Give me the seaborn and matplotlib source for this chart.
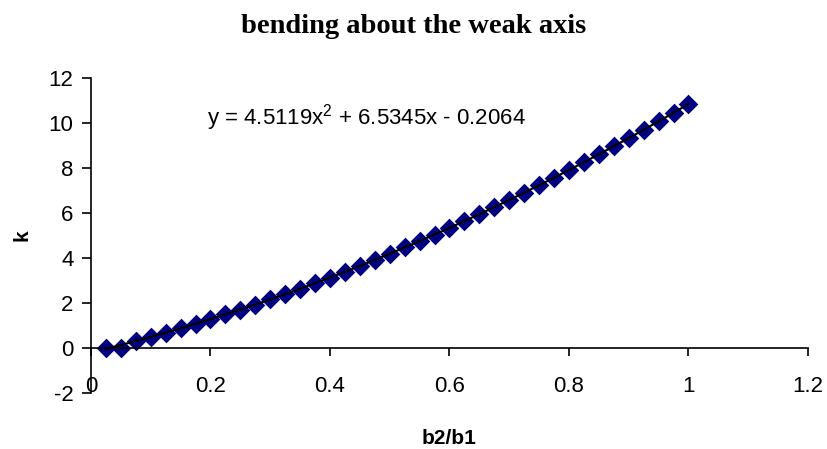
import numpy as np
import pandas as pd
import matplotlib
matplotlib.use("Agg")
import matplotlib.pyplot as plt
import seaborn as sns

# ---- data ----
ratio = [0.025, 0.05, 0.075, 0.1, 0.125, 0.15, 0.175, 0.2, 0.225, 0.25,
         0.275, 0.3, 0.325, 0.35, 0.375, 0.4, 0.425, 0.45, 0.475, 0.5,
         0.525, 0.55, 0.575, 0.6, 0.625, 0.65, 0.675, 0.7, 0.725, 0.75,
         0.775, 0.8, 0.825, 0.85, 0.875, 0.9, 0.925, 0.95, 0.975, 1.0]
k_vals = [0.0, 0.0, 0.31, 0.49, 0.68, 0.88, 1.08, 1.28, 1.49, 1.71,
          1.93, 2.16, 2.39, 2.63, 2.88, 3.13, 3.39, 3.65, 3.92, 4.19,
          4.47, 4.75, 5.04, 5.34, 5.64, 5.95, 6.26, 6.58, 6.90, 7.23,
          7.57, 7.91, 8.26, 8.61, 8.97, 9.33, 9.70, 10.07, 10.45, 10.84]
trend_coefs = [4.5119, 6.5345, -0.2064]
x_ticks = [0, 0.2, 0.4, 0.6, 0.8, 1, 1.2]
x_tick_labels = ["0", "0.2", "0.4", "0.6", "0.8", "1", "1.2"]
y_ticks = [-2, 0, 2, 4, 6, 8, 10, 12]
y_tick_labels = ["-2", "0", "2", "4", "6", "8", "10", "12"]
title = "bending about the weak axis"
x_label = "b2/b1"
y_label = "k"

df = pd.DataFrame({"ratio": ratio, "k": k_vals})
trend_x = np.linspace(min(ratio), max(ratio), 200)
trend_df = pd.DataFrame({"ratio": trend_x,
                         "k": np.polyval(trend_coefs, trend_x)})

sns.set_theme(style="white")
plt.rcParams["font.family"] = ["Liberation Sans", "DejaVu Sans"]
plt.rcParams["mathtext.fontset"] = "custom"
plt.rcParams["mathtext.rm"] = "Liberation Sans"
plt.rcParams["mathtext.it"] = "Liberation Sans"
plt.rcParams["text.color"] = "black"
plt.rcParams["axes.labelcolor"] = "black"
plt.rcParams["xtick.color"] = "black"
plt.rcParams["ytick.color"] = "black"

fig = plt.figure(figsize=(8.27, 4.49), dpi=100)
ax = fig.add_axes([0.110, 0.1247, 0.867, 0.7016])

sns.scatterplot(data=df, x="ratio", y="k", ax=ax, marker="D", s=100,
                color="#000080", edgecolor="#000080", linewidth=0, zorder=2)
sns.lineplot(data=trend_df, x="ratio", y="k", ax=ax, color="black",
             linewidth=1.5, zorder=3)

ax.set_xlim(0, 1.2)
ax.set_ylim(-2, 12)
ax.set_xticks(x_ticks)
ax.set_xticklabels(x_tick_labels)
ax.set_yticks(y_ticks)
ax.set_yticklabels(y_tick_labels)

for s in ["top", "right"]:
    ax.spines[s].set_visible(False)
ax.spines["bottom"].set_position(("data", 0))
for s in ["left", "bottom"]:
    ax.spines[s].set_color("black")
    ax.spines[s].set_linewidth(1.2)

ax.tick_params(axis="x", direction="out", length=6, width=1.2, color="black",
               pad=14, labelsize=16, labelcolor="black")
ax.tick_params(axis="y", direction="out", length=6.5, width=1.2, color="black",
               pad=6, labelsize=16, labelcolor="black")
ax.tick_params(bottom=True, left=True)

ax.set_xlabel(x_label, fontsize=15, fontweight="bold", color="black")
ax.xaxis.label.set_va("baseline")
ax.xaxis.set_label_coords(0.5, -0.162)
ax.set_ylabel(y_label, fontsize=15, fontweight="bold", color="black")
ax.yaxis.label.set_va("center")
ax.yaxis.set_label_coords(-0.096, 0.5)

a, b, c = trend_coefs
eq = f"y = {a:.4f}x$^2$ + {b:.4f}x - {abs(c):.4f}"
ax.text(0.461, 10.22, eq, fontsize=16, ha="center", va="center",
        color="black")

fig.text(0.5, 0.927, title, fontsize=20.5, fontweight="bold",
         family=["Liberation Serif", "DejaVu Serif"], ha="center",
         va="baseline", color="black")

fig.savefig("out.png", dpi=100)
